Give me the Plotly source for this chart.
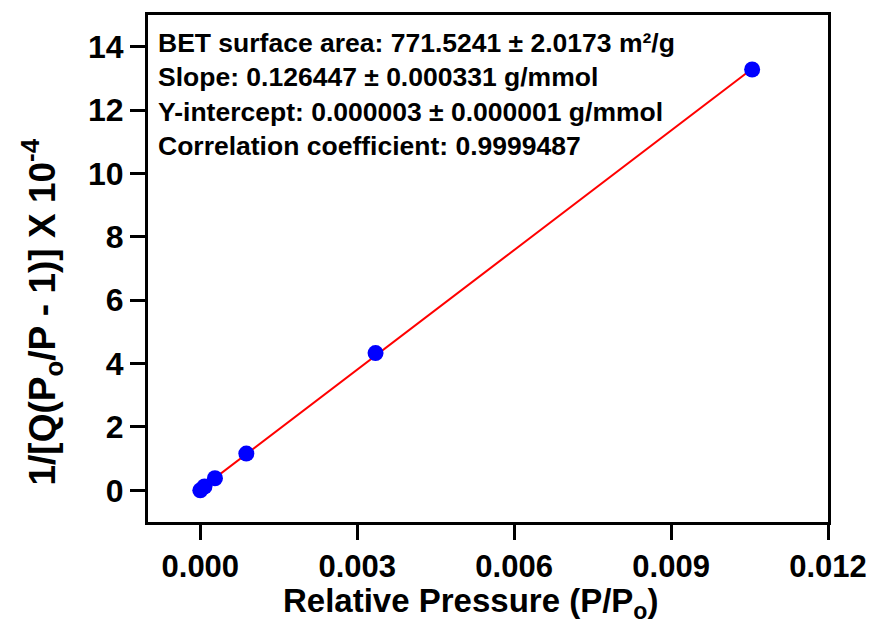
import numpy as np
import plotly.graph_objects as go

# Data (P/P0, 1/[Q(P0/P-1)] x 1e-4)
rel_pressure = [0.00000, 0.00008, 0.00028, 0.00088, 0.00335, 0.01055]
bet_y = [0.00, 0.12, 0.38, 1.16, 4.33, 13.28]

x_ticks = [0.000, 0.003, 0.006, 0.009, 0.012]
x_tick_labels = ["0.000", "0.003", "0.006", "0.009", "0.012"]
y_ticks = [0, 2, 4, 6, 8, 10, 12, 14]

info_lines = [
    "BET surface area: 771.5241 ± 2.0173 m²/g",
    "Slope: 0.126447 ± 0.000331 g/mmol",
    "Y-intercept: 0.000003 ± 0.000001 g/mmol",
    "Correlation coefficient: 0.9999487",
]
x_title = "Relative Pressure (P/P<sub>o</sub>)"
y_title = "1/[Q(P<sub>o</sub>/P - 1)] X 10<sup>-4</sup>"

slope, intercept = np.polyfit(rel_pressure, bet_y, 1)
fit_x = [min(rel_pressure), max(rel_pressure)]
fit_y = [slope * v + intercept for v in fit_x]

fig = go.Figure()
fig.add_trace(go.Scatter(x=fit_x, y=fit_y, mode="lines",
                         line=dict(color="#ff0000", width=2), showlegend=False))
fig.add_trace(go.Scatter(x=rel_pressure, y=bet_y, mode="markers",
                         marker=dict(color="#0000ff", size=16, line=dict(width=0)),
                         showlegend=False))

font_family = "Liberation Sans, Arial, sans-serif"
fig.update_layout(
    width=879, height=633,
    margin=dict(l=148, r=51, t=15, b=111),
    paper_bgcolor="white", plot_bgcolor="white",
    font=dict(family=font_family, color="black"),
    annotations=[
        dict(text="<br>".join("<b>%s</b>" % s for s in info_lines),
             xref="paper", yref="paper", x=0.012, y=0.978,
             xanchor="left", yanchor="top", showarrow=False, align="left",
             font=dict(size=26.5, family=font_family, color="black")),
        dict(text="<b>%s</b>" % x_title, xref="paper", yref="paper",
             x=0.474, y=-0.16, xanchor="center", yanchor="middle", showarrow=False,
             font=dict(size=33, family=font_family, color="black")),
        dict(text="<b>%s</b>" % y_title, xref="paper", yref="paper",
             x=-0.156, y=0.415, xanchor="center", yanchor="middle", showarrow=False,
             textangle=-90,
             font=dict(size=37, family=font_family, color="black")),
    ],
)
fig.update_xaxes(
    range=[-0.001, 0.012], tickvals=x_ticks, ticktext=["<b>%s</b>" % t for t in x_tick_labels],
    showgrid=False, zeroline=False, showline=True, linecolor="black", linewidth=3,
    mirror=True, ticks="outside", ticklen=15, tickwidth=3, tickcolor="black",
    tickfont=dict(size=31, family=font_family),
)
fig.update_yaxes(
    range=[-1, 15], tickvals=y_ticks, ticktext=["<b>%d</b>" % t for t in y_ticks],
    showgrid=False, zeroline=False, showline=True, linecolor="black", linewidth=3,
    mirror=True, ticks="outside", ticklen=15, tickwidth=3, tickcolor="black",
    tickfont=dict(size=32, family=font_family),
)

fig.write_html("out.html")
